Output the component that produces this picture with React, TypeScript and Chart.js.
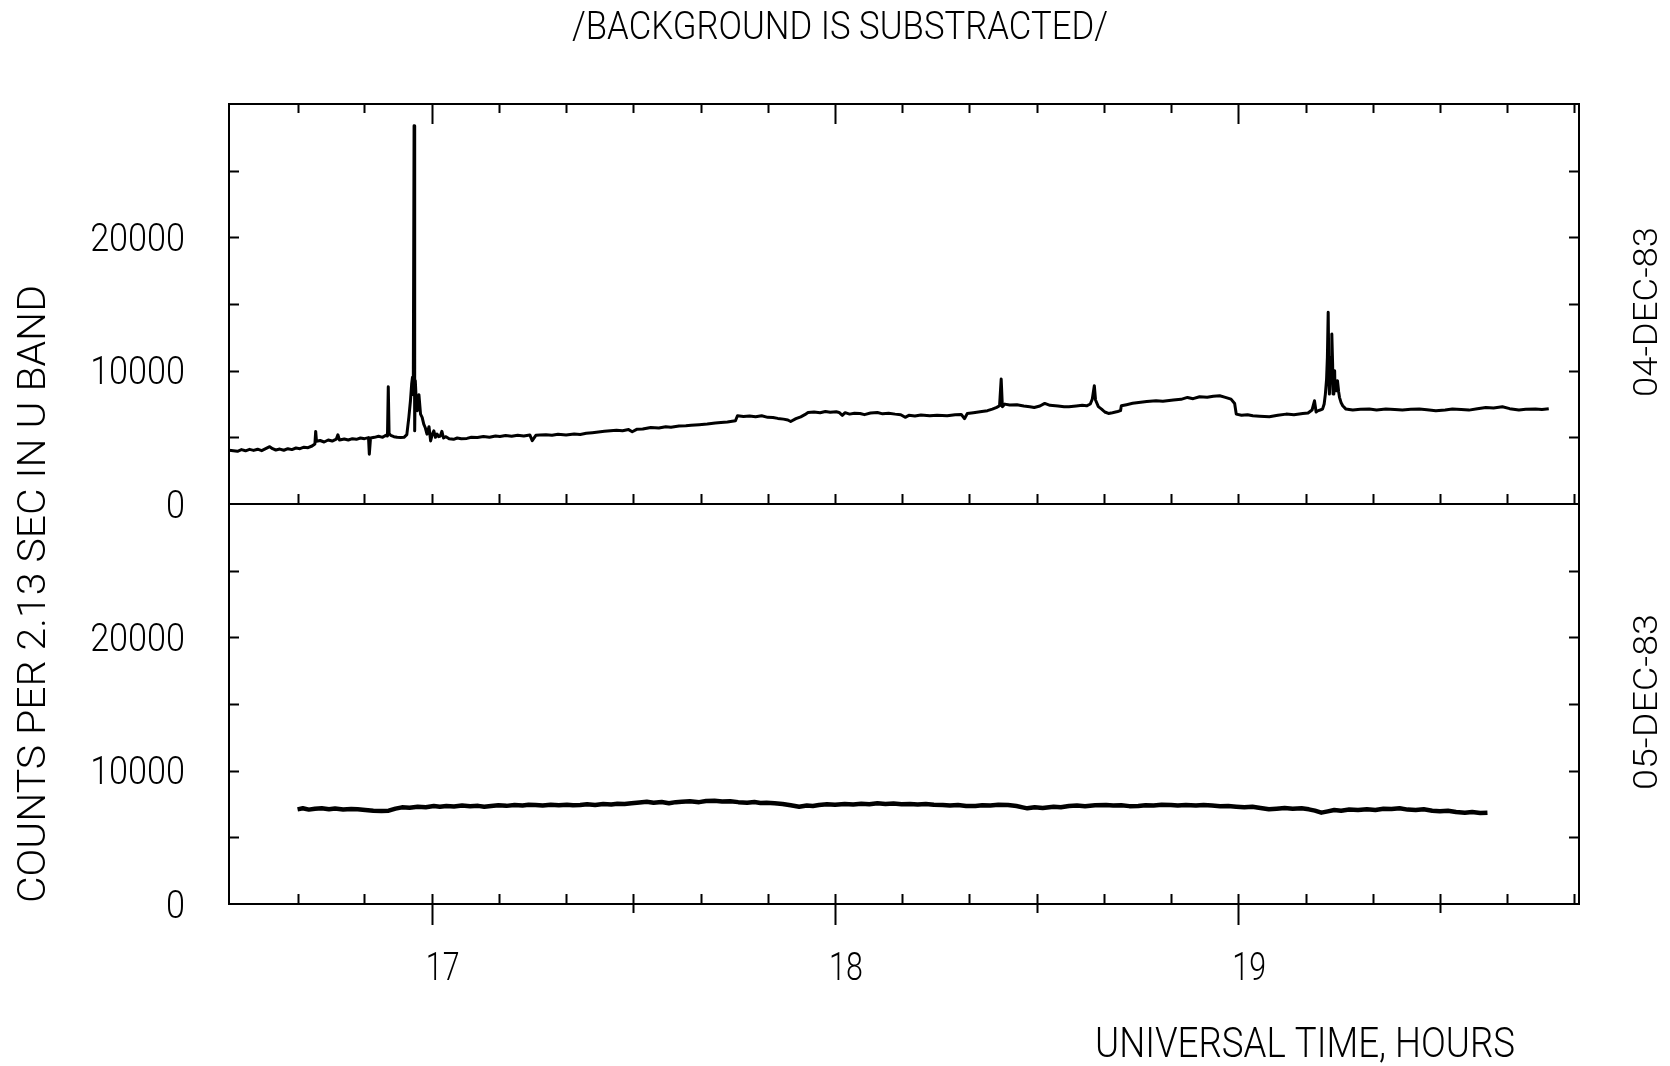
import React, { useEffect, useRef } from "react";
import { Chart, registerables } from "chart.js";

Chart.register(...registerables);

// ---------- DATA ----------
const chartTitle = "/BACKGROUND IS SUBSTRACTED/";
const xAxisTitle = "UNIVERSAL TIME, HOURS";
const yAxisTitle = "COUNTS PER 2.13 SEC IN U BAND";
const panelDates = ["04-DEC-83", "05-DEC-83"];

const xTenMinuteTicks = [
  16.667, 16.833, 17, 17.167, 17.333, 17.5, 17.667, 17.833, 18, 18.167,
  18.333, 18.5, 18.667, 18.833, 19, 19.167, 19.333, 19.5, 19.667, 19.833,
];
const xHalfHourTicks = [17.5, 18.5, 19.5];
const xHourTicks = [17, 18, 19];
const xTickLabels = ["17", "18", "19"];
const yTickValues = [5000, 10000, 15000, 20000, 25000];
const yLabelValues = [0, 10000, 20000];
const yLabelTexts = ["0", "10000", "20000"];

// 04-DEC-83 (upper panel)
const topTimes = [
  16.497, 16.518, 16.528, 16.538, 16.548, 16.558, 16.568, 16.578, 16.588, 16.598,
  16.605, 16.613, 16.623, 16.633, 16.643, 16.653, 16.663, 16.673, 16.683, 16.693,
  16.703, 16.71, 16.712, 16.714, 16.723, 16.733, 16.743, 16.753, 16.763, 16.767,
  16.771, 16.783, 16.793, 16.803, 16.813, 16.823, 16.833, 16.843, 16.845, 16.848,
  16.858, 16.868, 16.878, 16.886, 16.89, 16.892, 16.894, 16.898, 16.906, 16.914,
  16.923, 16.931, 16.938, 16.943, 16.947, 16.95, 16.952, 16.954, 16.956, 16.9575,
  16.959, 16.961, 16.964, 16.968, 16.972, 16.976, 16.98, 16.984, 16.988, 16.993,
  16.997, 17.001, 17.005, 17.009, 17.013, 17.017, 17.021, 17.025, 17.029, 17.035,
  17.043, 17.054, 17.063, 17.073, 17.087, 17.098, 17.113, 17.128, 17.143, 17.158,
  17.169, 17.183, 17.198, 17.213, 17.228, 17.243, 17.249, 17.258, 17.268, 17.283,
  17.298, 17.313, 17.333, 17.353, 17.368, 17.383, 17.398, 17.413, 17.428, 17.443,
  17.458, 17.473, 17.488, 17.497, 17.508, 17.523, 17.543, 17.563, 17.58, 17.593,
  17.613, 17.63, 17.643, 17.663, 17.683, 17.703, 17.717, 17.733, 17.753, 17.758,
  17.773, 17.788, 17.803, 17.818, 17.833, 17.846, 17.858, 17.872, 17.883, 17.89,
  17.903, 17.915, 17.925, 17.933, 17.948, 17.963, 17.976, 17.988, 18.003, 18.01,
  18.018, 18.025, 18.036, 18.048, 18.062, 18.073, 18.088, 18.105, 18.118, 18.133,
  18.149, 18.163, 18.174, 18.183, 18.198, 18.213, 18.235, 18.253, 18.278, 18.298,
  18.313, 18.321, 18.328, 18.343, 18.364, 18.378, 18.39, 18.401, 18.408, 18.412,
  18.415, 18.421, 18.433, 18.451, 18.468, 18.483, 18.494, 18.508, 18.52, 18.533,
  18.553, 18.568, 18.58, 18.598, 18.613, 18.624, 18.633, 18.638, 18.643, 18.646,
  18.653, 18.661, 18.669, 18.678, 18.688, 18.701, 18.708, 18.71, 18.723, 18.738,
  18.753, 18.773, 18.796, 18.813, 18.839, 18.858, 18.874, 18.888, 18.904, 18.923,
  18.938, 18.954, 18.968, 18.982, 18.991, 18.995, 19.008, 19.023, 19.036, 19.053,
  19.077, 19.098, 19.119, 19.138, 19.16, 19.173, 19.183, 19.189, 19.193, 19.197,
  19.203, 19.209, 19.213, 19.216, 19.219, 19.221, 19.223, 19.225, 19.226, 19.228,
  19.23, 19.232, 19.234, 19.235, 19.237, 19.239, 19.24, 19.242, 19.244, 19.246,
  19.249, 19.251, 19.255, 19.259, 19.267, 19.275, 19.284, 19.303, 19.325, 19.343,
  19.366, 19.388, 19.407, 19.428, 19.449, 19.468, 19.49, 19.513, 19.531, 19.553,
  19.572, 19.593, 19.614, 19.633, 19.655, 19.673, 19.696, 19.713, 19.737, 19.753,
  19.77,
];
const topCounts = [
  4040, 3950, 4080, 3990, 4100, 4020, 4110, 4000, 4150, 4300,
  4150, 4050, 4120, 4030, 4150, 4080, 4200, 4150, 4260, 4220,
  4350, 4500, 5440, 4700, 4760, 4650, 4800, 4720, 4860, 5190,
  4800, 4880, 4800, 4900, 4850, 4950, 4900, 4980, 3740, 4950,
  5000, 5080, 5000, 5150, 5100, 8800, 5300, 5150, 5050, 5000,
  4980, 5000, 5200, 6500, 7745, 9000, 9500, 8200, 28370, 5490,
  9250, 8000, 7000, 8200, 6740, 6500, 5990, 5700, 5240, 5800,
  4730, 5200, 5490, 5000, 5250, 5050, 5100, 5450, 4950, 5050,
  4900, 4850, 4950, 4900, 4920, 5000, 4980, 5060, 5000, 5100,
  5060, 5130, 5080, 5150, 5100, 5180, 4750, 5150, 5170, 5200,
  5150, 5230, 5180, 5250, 5220, 5300, 5350, 5400, 5450, 5500,
  5530, 5500, 5580, 5420, 5600, 5620, 5740, 5700, 5800, 5760,
  5850, 5865, 5900, 5950, 6000, 6080, 6115, 6150, 6240, 6620,
  6560, 6600, 6540, 6620, 6500, 6490, 6420, 6365, 6300, 6190,
  6400, 6540, 6700, 6866, 6900, 6850, 6940, 6880, 6920, 6866,
  6650, 6850, 6741, 6800, 6790, 6700, 6820, 6866, 6760, 6800,
  6741, 6700, 6500, 6650, 6600, 6680, 6616, 6660, 6616, 6700,
  6720, 6400, 6780, 6850, 6940, 7000, 7117, 7250, 7366, 9374,
  7292, 7492, 7420, 7442, 7350, 7300, 7242, 7350, 7542, 7400,
  7350, 7300, 7292, 7350, 7400, 7366, 7500, 7868, 8870, 7800,
  7300, 7117, 6900, 6790, 6850, 6940, 7000, 7366, 7450, 7550,
  7617, 7680, 7742, 7700, 7793, 7850, 7993, 7900, 8043, 8000,
  8080, 8119, 8000, 7868, 7542, 6741, 6650, 6700, 6616, 6580,
  6540, 6650, 6741, 6700, 6790, 6820, 7050, 7742, 6900, 6990,
  7050, 7117, 7500, 8244, 9374, 11000, 14388, 9000, 8244, 9500,
  11000, 12756, 10500, 8244, 9500, 10000, 8500, 9250, 8500, 9250,
  8400, 8000, 7600, 7366, 7117, 7080, 7042, 7100, 7117, 7050,
  7117, 7080, 7042, 7100, 7117, 7060, 6990, 7050, 7117, 7080,
  7042, 7150, 7242, 7200, 7292, 7150, 7042, 7100, 7117, 7080,
  7142,
];

// 05-DEC-83 (lower panel)
const bottomTimes = [
  16.667, 16.68, 16.695, 16.71, 16.727, 16.745, 16.76, 16.78, 16.8, 16.816,
  16.835, 16.855, 16.875, 16.893, 16.91, 16.926, 16.945, 16.965, 16.985, 17.005,
  17.02, 17.036, 17.055, 17.075, 17.095, 17.115, 17.13, 17.147, 17.165, 17.185,
  17.205, 17.225, 17.24, 17.257, 17.275, 17.295, 17.315, 17.335, 17.35, 17.368,
  17.385, 17.405, 17.425, 17.445, 17.46, 17.478, 17.495, 17.515, 17.533, 17.55,
  17.57, 17.588, 17.605, 17.62, 17.64, 17.663, 17.68, 17.701, 17.72, 17.74,
  17.76, 17.782, 17.8, 17.815, 17.83, 17.85, 17.87, 17.89, 17.911, 17.93,
  17.945, 17.96, 17.98, 18.0, 18.024, 18.045, 18.065, 18.085, 18.105, 18.125,
  18.145, 18.165, 18.186, 18.205, 18.225, 18.245, 18.267, 18.285, 18.305, 18.325,
  18.348, 18.365, 18.385, 18.405, 18.429, 18.45, 18.465, 18.477, 18.495, 18.515,
  18.542, 18.56, 18.58, 18.6, 18.62, 18.645, 18.672, 18.69, 18.71, 18.73,
  18.752, 18.77, 18.79, 18.81, 18.833, 18.85, 18.87, 18.895, 18.914, 18.935,
  18.955, 18.975, 18.995, 19.015, 19.035, 19.055, 19.076, 19.095, 19.115, 19.135,
  19.157, 19.175, 19.19, 19.206, 19.222, 19.238, 19.255, 19.275, 19.297, 19.319,
  19.34, 19.36, 19.38, 19.4, 19.42, 19.44, 19.46, 19.481, 19.5, 19.52,
  19.54, 19.562, 19.58, 19.6, 19.618,
];
const bottomCounts = [
  7100, 7180, 7080, 7150, 7175, 7100, 7160, 7080, 7130, 7100,
  7050, 7000, 6980, 7000, 7150, 7250, 7220, 7300, 7260, 7350,
  7300, 7350, 7320, 7380, 7330, 7360, 7300, 7350, 7400, 7360,
  7420, 7380, 7440, 7425, 7380, 7440, 7400, 7450, 7400, 7425,
  7480, 7430, 7500, 7470, 7520, 7500, 7560, 7620, 7675, 7600,
  7650, 7550, 7640, 7675, 7700, 7640, 7720, 7750, 7680, 7700,
  7640, 7600, 7650, 7580, 7600, 7550, 7500, 7400, 7300, 7380,
  7350, 7425, 7480, 7450, 7500, 7460, 7520, 7480, 7550, 7500,
  7540, 7480, 7500, 7460, 7500, 7440, 7425, 7380, 7420, 7350,
  7350, 7400, 7380, 7440, 7425, 7350, 7250, 7175, 7250, 7200,
  7300, 7250, 7350, 7380, 7340, 7400, 7425, 7380, 7400, 7340,
  7350, 7400, 7380, 7440, 7425, 7380, 7420, 7380, 7425, 7380,
  7340, 7350, 7300, 7250, 7300, 7200, 7100, 7150, 7200, 7150,
  7175, 7100, 7000, 6850, 6950, 7050, 7000, 7080, 7050, 7100,
  7050, 7150, 7120, 7175, 7080, 7050, 7100, 7000, 6950, 7000,
  6900, 6850, 6900, 6820, 6850,
];

// ---------- DRAWING HELPERS ----------
const FONT = 'Roboto, "Liberation Sans", Arial, sans-serif';

function drawText(
  ctx: CanvasRenderingContext2D,
  text: string,
  x: number,
  y: number,
  size: number,
  align: CanvasTextAlign,
  opts: { width?: number; sx?: number; rotate?: boolean }
) {
  ctx.save();
  ctx.font = `300 ${size}px ${FONT}`;
  const measured = ctx.measureText(text).width;
  const sx = opts.width ? opts.width / measured : opts.sx ?? 1;
  ctx.translate(x, y);
  if (opts.rotate) ctx.rotate(-Math.PI / 2);
  ctx.scale(sx, 1);
  ctx.textAlign = align;
  ctx.textBaseline = "alphabetic";
  ctx.fillStyle = "#000";
  ctx.fillText(text, 0, 0);
  ctx.restore();
}

const framePlugin = {
  id: "plotterFrame",
  afterDraw(chart: any) {
    const { ctx, chartArea } = chart;
    const { left, right, top, bottom } = chartArea;
    const xs = chart.scales.x;
    const yTop = chart.scales.yTop;
    const yBot = chart.scales.yBot;
    const mid = yTop.getPixelForValue(0);

    ctx.save();
    ctx.strokeStyle = "#000";
    ctx.lineWidth = 2;
    ctx.lineCap = "butt";
    ctx.strokeRect(left, top, right - left, bottom - top);
    ctx.beginPath();
    ctx.moveTo(left, mid);
    ctx.lineTo(right, mid);
    ctx.stroke();

    ctx.beginPath();
    for (const t of xTenMinuteTicks) {
      const px = Math.round(xs.getPixelForValue(t)) + 0.5;
      const isHour = xHourTicks.includes(t);
      const isHalf = xHalfHourTicks.includes(t);
      // top border, pointing down
      ctx.moveTo(px, top);
      ctx.lineTo(px, top + (isHour ? 20 : 9));
      // middle line, pointing up
      ctx.moveTo(px, mid);
      ctx.lineTo(px, mid - 10);
      // bottom axis
      ctx.moveTo(px, bottom - 10);
      ctx.lineTo(px, bottom + (isHour ? 21 : isHalf ? 9 : 0));
    }
    for (const sc of [yTop, yBot]) {
      for (const v of yTickValues) {
        const py = Math.round(sc.getPixelForValue(v)) + 0.5;
        ctx.moveTo(left, py);
        ctx.lineTo(left + 10, py);
        ctx.moveTo(right, py);
        ctx.lineTo(right - 10, py);
      }
    }
    ctx.stroke();
    ctx.restore();

    // y labels
    for (const sc of [yTop, yBot]) {
      yLabelValues.forEach((v, i) => {
        const py = sc.getPixelForValue(v);
        drawText(ctx, yLabelTexts[i], 185, py + 13.5, 38, "right", { sx: 0.9 });
      });
    }
    // x labels
    xHourTicks.forEach((t, i) => {
      const px = xs.getPixelForValue(t);
      drawText(ctx, xTickLabels[i], px - 6, 980, 38, "left", { sx: 0.8 });
    });

    // titles
    drawText(ctx, chartTitle, 840, 39, 39, "center", { width: 536 });
    drawText(ctx, xAxisTitle, 1095, 1057, 42, "left", { width: 420 });
    drawText(ctx, yAxisTitle, 45, 594, 38, "center", { width: 618, rotate: true });
    drawText(ctx, panelDates[0], 1657, 312, 34, "center", { width: 170, rotate: true });
    drawText(ctx, panelDates[1], 1657, 702, 34, "center", { width: 176, rotate: true });
  },
};

export default function App() {
  const canvasRef = useRef<HTMLCanvasElement | null>(null);

  useEffect(() => {
    const canvas = canvasRef.current;
    if (!canvas) return;
    const chart = new Chart(canvas, {
      type: "line",
      data: {
        datasets: [
          {
            label: panelDates[0],
            data: topTimes.map((t, i) => ({ x: t, y: topCounts[i] })),
            xAxisID: "x",
            yAxisID: "yTop",
            borderColor: "#000",
            borderWidth: 3,
            borderJoinStyle: "round",
            pointRadius: 0,
            fill: false,
            tension: 0,
          },
          {
            label: panelDates[1],
            data: bottomTimes.map((t, i) => ({ x: t, y: bottomCounts[i] })),
            xAxisID: "x",
            yAxisID: "yBot",
            borderColor: "#000",
            borderWidth: 4.5,
            borderJoinStyle: "round",
            pointRadius: 0,
            fill: false,
            tension: 0,
          },
        ],
      },
      options: {
        animation: false,
        responsive: false,
        maintainAspectRatio: false,
        devicePixelRatio: 1,
        events: [],
        layout: { padding: { left: 229, right: 91, top: 104, bottom: 162 } },
        plugins: {
          legend: { display: false },
          title: { display: false },
          tooltip: { enabled: false },
        },
        scales: {
          x: { type: "linear", min: 16.497, max: 19.845, display: false },
          yTop: {
            type: "linear",
            position: "left",
            stack: "panels",
            stackWeight: 1,
            weight: 2,
            min: 0,
            max: 30000,
            display: false,
          },
          yBot: {
            type: "linear",
            position: "left",
            stack: "panels",
            stackWeight: 1,
            weight: 1,
            min: 0,
            max: 30000,
            display: false,
          },
        },
      } as any,
      plugins: [framePlugin],
    });
    return () => chart.destroy();
  }, []);

  return (
    <div style={{ position: "absolute", left: 0, top: 0, width: 1670, height: 1066, background: "#fff" }}>
      <canvas ref={canvasRef} width={1670} height={1066} style={{ display: "block" }} />
    </div>
  );
}
